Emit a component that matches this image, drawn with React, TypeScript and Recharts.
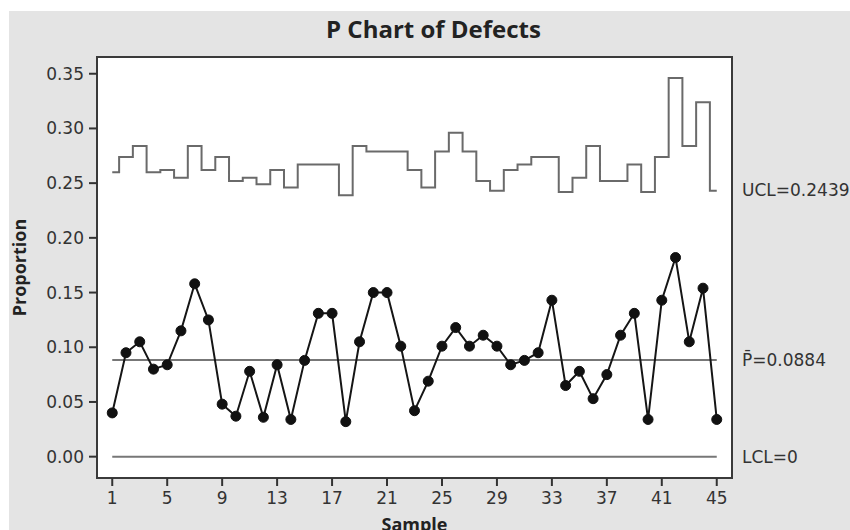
import {
  LineChart,
  Line,
  XAxis,
  YAxis,
  CartesianGrid,
  ReferenceLine,
  ReferenceArea,
} from "recharts";

// sample numbers along the x axis
const samples = [
  1, 2, 3, 4, 5, 6, 7, 8, 9, 10, 11, 12, 13, 14, 15, 16, 17, 18, 19, 20, 21, 22, 23,
  24, 25, 26, 27, 28, 29, 30, 31, 32, 33, 34, 35, 36, 37, 38, 39, 40, 41, 42, 43, 44, 45,
];

// proportion defective per sample
const proportions = [
  0.04, 0.095, 0.105, 0.08, 0.084, 0.115, 0.158, 0.125, 0.048, 0.037, 0.078, 0.036,
  0.084, 0.034, 0.088, 0.131, 0.131, 0.032, 0.105, 0.15, 0.15, 0.101, 0.042, 0.069,
  0.101, 0.118, 0.101, 0.111, 0.101, 0.084, 0.088, 0.095, 0.143, 0.065, 0.078, 0.053,
  0.075, 0.111, 0.131, 0.034, 0.143, 0.182, 0.105, 0.154, 0.034,
];

// upper control limit per sample (varies with sample size)
const ucl = [
  0.26, 0.274, 0.284, 0.26, 0.262, 0.255, 0.284, 0.262, 0.274, 0.252, 0.255, 0.249,
  0.262, 0.246, 0.267, 0.267, 0.267, 0.239, 0.284, 0.279, 0.279, 0.279, 0.262, 0.246,
  0.279, 0.296, 0.279, 0.252, 0.243, 0.262, 0.267, 0.274, 0.274, 0.242, 0.255, 0.284,
  0.252, 0.252, 0.267, 0.242, 0.274, 0.346, 0.284, 0.324, 0.243,
];

const xTicks = [1, 5, 9, 13, 17, 21, 25, 29, 33, 37, 41, 45];
const yTicks = [0, 0.05, 0.1, 0.15, 0.2, 0.25, 0.3, 0.35];

const UCL_LAST = 0.2439;
const P_BAR = 0.0884;
const LCL = 0;

const X_DOMAIN: [number, number] = [-0.11, 46.11];
const Y_DOMAIN: [number, number] = [-0.0195, 0.3653];

const data = samples.map((s, i) => ({ sample: s, p: proportions[i], ucl: ucl[i] }));

const tickFont = { fontFamily: "DejaVu Sans", fontSize: 17, fill: "#333" };
const boldFont = "'Open Sans', sans-serif";

const RightLabel = (props: any) => {
  const { viewBox, text } = props;
  if (!viewBox) return null;
  const x = viewBox.x + viewBox.width + 10;
  const y = viewBox.y;
  return (
    <text
      x={x}
      y={y}
      dy="0.36em"
      fontFamily="DejaVu Sans"
      fontSize={17}
      fill="#333"
    >
      {text}
    </text>
  );
};

export default function App() {
  return (
    <div
      style={{
        position: "absolute",
        left: 9,
        top: 11,
        width: 841,
        height: 519,
        overflow: "hidden",
        background: "#e4e4e4",
      }}
    >
      <div
        style={{
          position: "absolute",
          left: 4,
          top: 1,
          width: 841,
          textAlign: "center",
          fontFamily: boldFont,
          fontWeight: 700,
          fontSize: 24,
          color: "#222",
        }}
      >
        P Chart of Defects
      </div>
      <LineChart
        width={841}
        height={540}
        data={data}
        margin={{ top: 46, right: 118, bottom: 33, left: 0 }}
      >
        <CartesianGrid fill="#fff" horizontal={false} vertical={false} />
        <XAxis
          dataKey="sample"
          type="number"
          domain={X_DOMAIN}
          ticks={xTicks}
          allowDataOverflow
          height={40}
          tickSize={8}
          tickMargin={6}
          tick={tickFont}
          axisLine={false}
          tickLine={{ stroke: "#333", strokeWidth: 2 }}
          label={{
            value: "Sample",
            position: "bottom",
            offset: 0,
            style: { fontFamily: boldFont, fontWeight: 700, fontSize: 18, fill: "#222" },
          }}
        />
        <YAxis
          type="number"
          domain={Y_DOMAIN}
          ticks={yTicks}
          allowDataOverflow
          width={88}
          tickSize={8}
          tickMargin={5}
          tick={tickFont}
          tickFormatter={(v: number) => v.toFixed(2)}
          axisLine={false}
          tickLine={{ stroke: "#333", strokeWidth: 2 }}
          label={{
            value: "Proportion",
            angle: -90,
            position: "insideLeft",
            offset: 11,
            style: {
              textAnchor: "middle",
              fontFamily: boldFont,
              fontWeight: 700,
              fontSize: 18,
              fill: "#222",
            },
          }}
        />
        <ReferenceArea
          x1={X_DOMAIN[0]}
          x2={X_DOMAIN[1]}
          y1={Y_DOMAIN[0]}
          y2={Y_DOMAIN[1]}
          fill="none"
          fillOpacity={0}
          stroke="#3a3a3a"
          strokeWidth={2}
          ifOverflow="visible"
        />
        <ReferenceLine
          segment={[
            { x: samples[0], y: P_BAR },
            { x: samples[samples.length - 1], y: P_BAR },
          ]}
          stroke="#777"
          strokeWidth={2}
        />
        <ReferenceLine
          segment={[
            { x: samples[0], y: LCL },
            { x: samples[samples.length - 1], y: LCL },
          ]}
          stroke="#777"
          strokeWidth={2}
        />
        <ReferenceLine y={UCL_LAST} stroke="none" label={<RightLabel text="UCL=0.2439" />} />
        <ReferenceLine y={P_BAR} stroke="none" label={<RightLabel text={"P\u0304=0.0884"} />} />
        <ReferenceLine y={LCL} stroke="none" label={<RightLabel text="LCL=0" />} />
        <Line
          dataKey="ucl"
          type="step"
          stroke="#6a6a6a"
          strokeWidth={2}
          dot={false}
          isAnimationActive={false}
        />
        <Line
          dataKey="p"
          type="linear"
          stroke="#151515"
          strokeWidth={2}
          dot={{ r: 5, fill: "#111", stroke: "#111", strokeWidth: 1 }}
          isAnimationActive={false}
        />
      </LineChart>
    </div>
  );
}
